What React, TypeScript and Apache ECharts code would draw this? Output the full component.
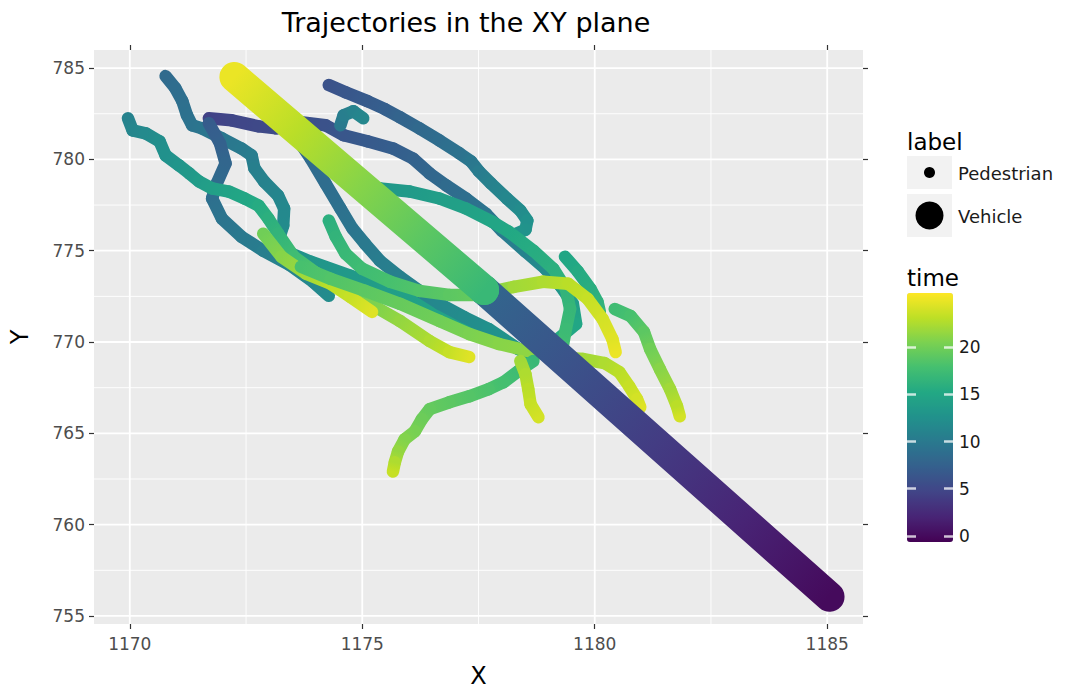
import React, { useEffect, useRef } from "react";
import * as echarts from "echarts";

// ---------- texts & scales ----------
const TITLE = "Trajectories in the XY plane";
const X_NAME = "X";
const Y_NAME = "Y";
const X_RANGE = [1169.23, 1185.77];
const Y_RANGE = [754.56, 785.99];
const X_TICKS = [1170, 1175, 1180, 1185];
const X_MINOR = [1172.5, 1177.5, 1182.5];
const Y_TICKS = [755, 760, 765, 770, 775, 780, 785];
const Y_MINOR = [757.5, 762.5, 767.5, 772.5, 777.5, 782.5];
const TIME_TICKS = [0, 5, 10, 15, 20];
const TIME_RANGE = [-0.65, 25.75];
const LEGEND_LABEL_TITLE = "label";
const LEGEND_LABELS = ["Pedestrian", "Vehicle"];
const LEGEND_TIME_TITLE = "time";
const VIRIDIS = ["#440154", "#482475", "#414487", "#355f8d", "#2a788e", "#21918c", "#22a884", "#44bf70", "#7ad151", "#bddf26", "#fde725"];

// ---------- trajectories: [x, y, time] ----------
const PED_A = [[1174.28,784.07,6],[1174.64,783.68,6.4],[1175.11,783.19,6.9],[1175.49,782.75,7.3],[1175.81,782.31,7.8],[1176.23,781.70,8.3],[1176.66,781.04,8.8],[1177.09,780.33,9.3],[1177.34,779.89,9.8],[1177.51,779.34,10.3],[1177.77,778.68,10.9],[1178.11,777.86,11.5],[1178.40,777.20,12],[1178.55,776.65,12.5],[1178.51,776.15,12.8],[1178.26,775.88,13]];
const PED_B = [[1171.70,782.25,4.5],[1172.19,782.14,4.8],[1172.77,781.81,5.1],[1173.15,781.70,5.4],[1173.68,782.03,5.7],[1174.21,781.87,6],[1174.60,781.32,6.4],[1175.11,780.99,6.8],[1175.66,780.60,7.2],[1176.09,780.05,7.6],[1176.45,779.23,8],[1176.81,778.57,8.5],[1177.23,777.86,9],[1177.66,777.03,9.5],[1178.00,776.10,10],[1178.51,774.95,11],[1178.94,774.01,12],[1179.28,773.02,13],[1179.53,772.09,14],[1179.60,770.99,15],[1179.21,770.16,15.5]];
const PED_HOOK = [[1174.53,781.87,10],[1174.60,782.42,10.5],[1174.81,782.64,11],[1175.02,782.25,11.5]];
const PED_C = [[1170.77,784.56,8.5],[1170.98,783.90,8.8],[1171.13,783.19,9],[1171.23,782.42,9.2],[1171.34,781.87,9.4],[1171.55,781.70,9.6],[1171.98,781.15,9.8],[1172.40,780.60,10.1],[1172.62,780.22,10.4],[1172.68,779.51,10.7],[1172.89,778.79,11],[1173.19,778.02,11.3],[1173.32,777.31,11.6],[1173.30,776.37,11.9],[1173.21,775.66,12.2],[1173.47,774.84,12.5],[1173.89,774.40,13],[1174.74,773.63,13.5],[1175.60,772.91,14],[1176.45,772.09,14.5],[1177.30,770.99,15],[1177.94,770.16,15.5],[1178.57,769.34,16]];
const PED_P = [[1171.70,781.98,7],[1171.94,780.88,7.5],[1172.06,779.78,8],[1171.87,778.68,8.5],[1171.77,777.86,9],[1171.98,776.76,9.5],[1172.40,775.77,10],[1172.87,775.00,10.5],[1173.43,774.23,11],[1173.94,773.30,11.5],[1174.28,772.53,12]];
const PED_D = [[1173.64,780.99,8],[1173.89,780.05,8.4],[1174.21,778.68,8.8],[1174.53,777.31,9.2],[1174.79,776.21,9.6],[1175.06,775.38,10],[1175.38,774.45,10.4],[1175.81,773.57,10.8],[1176.23,772.80,11.2],[1176.66,772.09,11.6],[1177.19,771.37,12],[1177.72,770.71,12.5],[1178.36,769.62,13]];
const PED_E = [[1169.96,782.25,11],[1170.06,781.59,11.4],[1170.34,781.43,11.8],[1170.64,780.99,12.2],[1170.77,780.22,12.6],[1171.06,779.67,13],[1171.28,779.23,13.4],[1171.49,778.79,13.8],[1171.77,778.41,14.2],[1172.13,778.24,14.6],[1172.47,777.86,15],[1172.77,777.47,15.5],[1172.98,776.76,16],[1173.19,775.93,16.5],[1173.53,774.67,17.5],[1174.00,773.79,18.5],[1174.53,772.91,19.5],[1175.17,772.09,20.5],[1175.81,771.15,21.5],[1176.45,770.05,22.5],[1176.87,769.45,23.5],[1177.30,769.18,24.5]];
const PED_I = [[1175.06,778.57,13],[1175.38,778.41,13.3],[1176.02,778.24,13.6],[1176.66,777.86,14],[1177.23,777.31,14.4],[1177.79,776.59,14.8],[1178.15,776.04,15.2],[1178.68,775.00,15.6],[1179.11,774.01,16],[1179.38,772.91,16.4],[1179.47,771.81,16.8],[1179.38,770.71,17.2],[1179.32,769.89,17.6]];
const PED_J = [[1179.36,774.67,15],[1179.64,773.85,15.4],[1179.91,772.91,15.8],[1180.06,772.20,16.2],[1180.11,771.65,16.6]];
const PED_H = [[1174.28,776.65,16],[1174.43,775.77,16.5],[1174.64,774.84,17],[1175.00,774.01,17.5],[1175.60,773.30,18],[1176.23,772.80,18.5],[1176.87,772.58,19],[1177.47,772.58,19.5],[1178.26,773.02,22],[1178.89,773.30,22.5],[1179.43,773.19,23],[1179.85,772.36,23.5],[1180.17,771.26,24],[1180.38,770.16,24.5],[1180.45,769.45,25]];
const PED_F = [[1172.87,775.93,20],[1173.26,774.67,21],[1173.79,773.74,22],[1174.32,773.19,23],[1174.74,772.47,23.5],[1175.21,771.65,24.5]];
const PED_N = [[1173.68,774.12,18],[1174.32,773.46,18.5],[1175.06,772.80,19],[1175.81,772.09,19.5],[1176.66,771.15,20],[1177.30,770.44,20.5],[1177.94,769.89,21],[1178.57,769.51,21.3],[1179.21,769.18,21.6],[1179.74,769.07,22],[1180.21,768.85,22.5],[1180.53,768.35,23],[1180.74,767.58,23.5],[1180.91,766.87,24],[1180.98,766.43,24.5]];
const PED_K = [[1180.43,771.81,17.5],[1180.77,771.43,18],[1181.06,770.55,19],[1181.19,769.62,20],[1181.40,768.52,21],[1181.62,767.42,22],[1181.77,766.48,23],[1181.83,765.93,24]];
const PED_L = [[1178.68,768.96,17],[1178.36,768.41,17.4],[1178.04,767.80,17.8],[1177.72,767.42,18.2],[1177.30,767.03,18.6],[1176.87,766.70,19],[1176.45,766.32,19.4],[1176.28,765.77,19.8],[1176.13,765.11,20.3],[1175.91,764.67,20.8],[1175.77,764.01,21.5],[1175.70,763.41,22.5],[1175.66,762.91,23.5]];
const PED_M = [[1178.40,768.96,22],[1178.51,768.24,22.5],[1178.57,767.42,23],[1178.62,766.59,23.5],[1178.79,765.88,24]];
const VEHICLE = [[1185.05,756.05,0],[1177.62,772.85,8],[1177.62,772.85,17],[1172.25,784.51,25]];

const PEDESTRIANS = [PED_B, PED_A, PED_HOOK, PED_C, PED_P, PED_D, PED_E, PED_I, PED_J, PED_H, PED_F, PED_N, PED_K, PED_L, PED_M];

const FONT = "DejaVu Sans";

function hexRgb(h: string) {
  return [parseInt(h.slice(1, 3), 16), parseInt(h.slice(3, 5), 16), parseInt(h.slice(5, 7), 16)];
}
const VIR_RGB = VIRIDIS.map(hexRgb);
function timeColor(t: number) {
  let f = (t - TIME_RANGE[0]) / (TIME_RANGE[1] - TIME_RANGE[0]);
  f = Math.max(0, Math.min(1, f)) * (VIR_RGB.length - 1);
  const i = Math.min(Math.floor(f), VIR_RGB.length - 2);
  const r = f - i;
  const a = VIR_RGB[i], b = VIR_RGB[i + 1];
  const c = [0, 1, 2].map((k) => Math.round(a[k] + (b[k] - a[k]) * r));
  return `rgb(${c[0]},${c[1]},${c[2]})`;
}

function toSegments(tracks: number[][][]) {
  const out: number[][] = [];
  tracks.forEach((tr) => {
    for (let i = 0; i < tr.length - 1; i++) {
      out.push([tr[i][0], tr[i][1], tr[i][2], tr[i + 1][0], tr[i + 1][1], tr[i + 1][2]]);
    }
  });
  return out;
}

function segmentRenderer(width: number) {
  return (params: any, api: any) => {
    const p1 = api.coord([api.value(0), api.value(1)]);
    const p2 = api.coord([api.value(3), api.value(4)]);
    const t1 = api.value(2), t2 = api.value(5);
    const same = Math.abs(p1[0] - p2[0]) < 0.01 && Math.abs(p1[1] - p2[1]) < 0.01;
    if (same) {
      return { type: "circle", shape: { cx: p2[0], cy: p2[1], r: width / 2 }, style: { fill: timeColor(t2) } };
    }
    const stops = [0, 0.25, 0.5, 0.75, 1].map((f) => ({ offset: f, color: timeColor(t1 + (t2 - t1) * f) }));
    const grad = new echarts.graphic.LinearGradient(p1[0], p1[1], p2[0], p2[1], stops, true);
    return {
      type: "line",
      shape: { x1: p1[0], y1: p1[1], x2: p2[0], y2: p2[1] },
      style: { stroke: grad, lineWidth: width, lineCap: "round", fill: null },
    };
  };
}

export default function App() {
  const ref = useRef<HTMLDivElement>(null);
  useEffect(() => {
    if (!ref.current) return;
    const chart = echarts.init(ref.current, undefined, { renderer: "svg" });
    const tickStyle = { color: "#333333", width: 1.2 };
    const vGrid = [...X_TICKS.map((v) => [v, Y_RANGE[0], 1]), ...X_MINOR.map((v) => [v, Y_RANGE[0], 0])];
    const hGrid = [...Y_TICKS.map((v) => [X_RANGE[0], v, 1]), ...Y_MINOR.map((v) => [X_RANGE[0], v, 0])];
    const option: any = {
      animation: false,
      grid: [
        { left: 92, top: 50, width: 771, height: 574, show: true, backgroundColor: "#ebebeb", borderWidth: 0 },
        { left: 907, top: 293, width: 46, height: 249, show: false },
      ],
      xAxis: [
        {
          gridIndex: 0, type: "value", min: X_RANGE[0], max: X_RANGE[1], position: "bottom",
          axisLine: { show: false }, splitLine: { show: false },
          axisTick: { show: true, customValues: X_TICKS, length: 5, lineStyle: tickStyle },
          axisLabel: { customValues: X_TICKS, formatter: (v: number) => String(v), fontSize: 17, color: "#4d4d4d", fontFamily: FONT, margin: 11 },
          name: X_NAME, nameLocation: "middle", nameGap: 40,
          nameTextStyle: { fontSize: 24, color: "#000", fontFamily: FONT },
        },
        {
          gridIndex: 0, type: "value", min: X_RANGE[0], max: X_RANGE[1], position: "top",
          axisLine: { show: false }, splitLine: { show: false },
          axisTick: { show: true, customValues: X_TICKS, length: 5, lineStyle: tickStyle },
          axisLabel: { show: false },
        },
        { gridIndex: 1, type: "value", min: 0, max: 1, show: false },
      ],
      yAxis: [
        {
          gridIndex: 0, type: "value", min: Y_RANGE[0], max: Y_RANGE[1], position: "left",
          axisLine: { show: false }, splitLine: { show: false },
          axisTick: { show: true, customValues: Y_TICKS, length: 5, lineStyle: tickStyle },
          axisLabel: { customValues: Y_TICKS, formatter: (v: number) => String(v), fontSize: 17, color: "#4d4d4d", fontFamily: FONT, margin: 9 },
          name: Y_NAME, nameLocation: "middle", nameGap: 62, nameRotate: 90,
          nameTextStyle: { fontSize: 24, color: "#000", fontFamily: FONT },
        },
        {
          gridIndex: 0, type: "value", min: Y_RANGE[0], max: Y_RANGE[1], position: "right",
          axisLine: { show: false }, splitLine: { show: false },
          axisTick: { show: true, customValues: Y_TICKS, length: 5, lineStyle: tickStyle },
          axisLabel: { show: false },
        },
        {
          gridIndex: 1, type: "value", min: TIME_RANGE[0], max: TIME_RANGE[1], position: "left", z: 10,
          axisLine: { show: false }, splitLine: { show: false },
          axisTick: { show: true, inside: true, customValues: TIME_TICKS, length: 9, lineStyle: { color: "rgba(255,255,255,0.75)", width: 2.5 } },
          axisLabel: { show: false },
        },
        {
          gridIndex: 1, type: "value", min: TIME_RANGE[0], max: TIME_RANGE[1], position: "right", z: 10,
          axisLine: { show: false }, splitLine: { show: false },
          axisTick: { show: true, inside: true, customValues: TIME_TICKS, length: 9, lineStyle: { color: "rgba(255,255,255,0.75)", width: 2.5 } },
          axisLabel: { show: true, customValues: TIME_TICKS, fontSize: 17, color: "#1a1a1a", fontFamily: FONT, margin: 6 },
        },
      ],
      visualMap: {
        type: "continuous", min: TIME_RANGE[0], max: TIME_RANGE[1], seriesIndex: [],
        calculable: false, hoverLink: false, left: 907, top: 293, itemWidth: 46, itemHeight: 249,
        padding: 0, text: null, inRange: { color: VIRIDIS }, z: 1,
      },
      series: [
        {
          type: "custom", xAxisIndex: 0, yAxisIndex: 0, silent: true, data: vGrid, encode: { x: 0, y: 1 },
          renderItem: (params: any, api: any) => {
            const x = api.coord([api.value(0), api.value(1)])[0];
            const cs = params.coordSys;
            return { type: "line", shape: { x1: x, y1: cs.y, x2: x, y2: cs.y + cs.height }, style: { stroke: "#ffffff", lineWidth: api.value(2) ? 1.8 : 0.9 } };
          },
        },
        {
          type: "custom", xAxisIndex: 0, yAxisIndex: 0, silent: true, data: hGrid, encode: { x: 0, y: 1 },
          renderItem: (params: any, api: any) => {
            const y = api.coord([api.value(0), api.value(1)])[1];
            const cs = params.coordSys;
            return { type: "line", shape: { x1: cs.x, y1: y, x2: cs.x + cs.width, y2: y }, style: { stroke: "#ffffff", lineWidth: api.value(2) ? 1.8 : 0.9 } };
          },
        },
        {
          name: LEGEND_LABELS[0], type: "custom", xAxisIndex: 0, yAxisIndex: 0, silent: true,
          data: toSegments(PEDESTRIANS), encode: { x: [0, 3], y: [1, 4] },
          renderItem: segmentRenderer(12.5),
        },
        {
          name: LEGEND_LABELS[1], type: "custom", xAxisIndex: 0, yAxisIndex: 0, silent: true,
          data: toSegments([VEHICLE]), encode: { x: [0, 3], y: [1, 4] },
          renderItem: segmentRenderer(30),
        },
      ],
      graphic: [
        { type: "text", x: 466, y: 22, style: { text: TITLE, fontSize: 27, fontFamily: FONT, fill: "#000", textAlign: "center", textVerticalAlign: "middle" } },
        { type: "text", x: 907, y: 142, style: { text: LEGEND_LABEL_TITLE, fontSize: 23, fontFamily: FONT, fill: "#000", textAlign: "left", textVerticalAlign: "middle" } },
        { type: "rect", shape: { x: 907, y: 156, width: 45, height: 33 }, style: { fill: "#f2f2f2" } },
        { type: "rect", shape: { x: 907, y: 194, width: 45, height: 43 }, style: { fill: "#f2f2f2" } },
        { type: "circle", shape: { cx: 929.5, cy: 172.5, r: 5.5 }, style: { fill: "#000" } },
        { type: "circle", shape: { cx: 929.5, cy: 215.5, r: 14 }, style: { fill: "#000" } },
        { type: "text", x: 958, y: 173, style: { text: LEGEND_LABELS[0], fontSize: 18, fontFamily: FONT, fill: "#1a1a1a", textAlign: "left", textVerticalAlign: "middle" } },
        { type: "text", x: 958, y: 216, style: { text: LEGEND_LABELS[1], fontSize: 18, fontFamily: FONT, fill: "#1a1a1a", textAlign: "left", textVerticalAlign: "middle" } },
        { type: "text", x: 907, y: 278, style: { text: LEGEND_TIME_TITLE, fontSize: 23, fontFamily: FONT, fill: "#000", textAlign: "left", textVerticalAlign: "middle" } },
      ],
    };
    chart.setOption(option);
    return () => chart.dispose();
  }, []);
  return <div ref={ref} style={{ position: "absolute", left: 0, top: 0, width: 1067, height: 693 }} />;
}
